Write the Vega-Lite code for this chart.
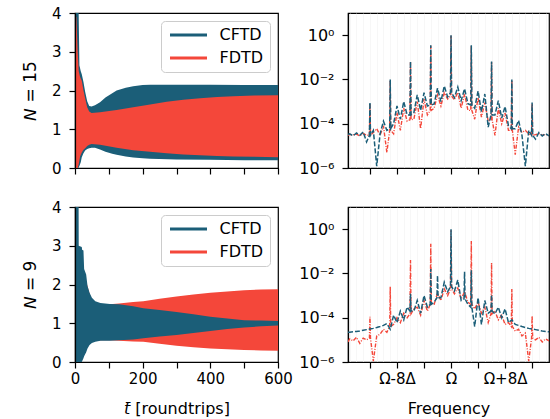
{
  "$schema": "https://vega.github.io/schema/vega-lite/v6.json",
  "padding": {"left": 20, "top": 5, "right": 1, "bottom": 2},
  "background": "white",
  "config": {
    "font": "DejaVu Sans",
    "view": {"stroke": "#000", "strokeWidth": 1.2},
    "axis": {"labelFont": "DejaVu Sans", "labelFontSize": 15, "labelColor": "#000", "titleFont": "DejaVu Sans", "titleFontSize": 16, "titleFontWeight": "normal", "titleColor": "#000", "tickColor": "#000", "tickSize": 6, "tickWidth": 1.2, "domainColor": "#000", "domainWidth": 1.2, "grid": false, "labelOverlap": false, "labelBound": false, "labelFlush": false}
  },
  "bounds": "flush",
  "columns": 2,
  "spacing": {"row": 39, "column": 70},
  "resolve": {"scale": {"color": "independent"}, "legend": {"color": "independent"}},
  "datasets": {
    "tl": [
      {"t":0,"s":"CFTD","lo":0,"hi":6},{"t":5,"s":"CFTD","lo":0,"hi":6},{"t":10,"s":"CFTD","lo":0,"hi":4.5},{"t":13,"s":"CFTD","lo":0.05,"hi":2.65},{"t":17,"s":"CFTD","lo":0.15,"hi":2.5},{"t":20,"s":"CFTD","lo":0.28,"hi":2.42},{"t":25,"s":"CFTD","lo":0.38,"hi":2.22},{"t":30,"s":"CFTD","lo":0.45,"hi":1.97},{"t":36,"s":"CFTD","lo":0.49,"hi":1.72},{"t":42,"s":"CFTD","lo":0.51,"hi":1.6},{"t":49,"s":"CFTD","lo":0.52,"hi":1.59},{"t":59,"s":"CFTD","lo":0.52,"hi":1.62},{"t":74,"s":"CFTD","lo":0.48,"hi":1.7},{"t":90,"s":"CFTD","lo":0.42,"hi":1.82},{"t":110,"s":"CFTD","lo":0.37,"hi":1.93},{"t":123,"s":"CFTD","lo":0.34,"hi":2.0},{"t":150,"s":"CFTD","lo":0.3,"hi":2.07},{"t":172,"s":"CFTD","lo":0.27,"hi":2.11},{"t":200,"s":"CFTD","lo":0.25,"hi":2.14},{"t":222,"s":"CFTD","lo":0.24,"hi":2.15},{"t":300,"s":"CFTD","lo":0.22,"hi":2.15},{"t":400,"s":"CFTD","lo":0.21,"hi":2.15},{"t":500,"s":"CFTD","lo":0.2,"hi":2.14},{"t":600,"s":"CFTD","lo":0.2,"hi":2.14},
      {"t":0,"s":"FDTD","lo":0,"hi":3.9},{"t":4,"s":"FDTD","lo":0,"hi":3.9},{"t":8,"s":"FDTD","lo":0,"hi":3.0},{"t":11,"s":"FDTD","lo":0.1,"hi":2.5},{"t":15,"s":"FDTD","lo":0.3,"hi":2.35},{"t":20,"s":"FDTD","lo":0.4,"hi":2.25},{"t":25,"s":"FDTD","lo":0.47,"hi":2.0},{"t":30,"s":"FDTD","lo":0.51,"hi":1.8},{"t":36,"s":"FDTD","lo":0.57,"hi":1.57},{"t":42,"s":"FDTD","lo":0.6,"hi":1.46},{"t":49,"s":"FDTD","lo":0.62,"hi":1.42},{"t":74,"s":"FDTD","lo":0.6,"hi":1.44},{"t":123,"s":"FDTD","lo":0.52,"hi":1.5},{"t":172,"s":"FDTD","lo":0.46,"hi":1.57},{"t":222,"s":"FDTD","lo":0.42,"hi":1.64},{"t":271,"s":"FDTD","lo":0.38,"hi":1.71},{"t":320,"s":"FDTD","lo":0.35,"hi":1.76},{"t":370,"s":"FDTD","lo":0.33,"hi":1.8},{"t":420,"s":"FDTD","lo":0.31,"hi":1.83},{"t":468,"s":"FDTD","lo":0.3,"hi":1.85},{"t":530,"s":"FDTD","lo":0.29,"hi":1.87},{"t":600,"s":"FDTD","lo":0.28,"hi":1.88}
    ],
    "bl": [
      {"t":0,"s":"CFTD","lo":0,"hi":6},{"t":10,"s":"CFTD","lo":0,"hi":6},{"t":11,"s":"CFTD","lo":0,"hi":3.0},{"t":20,"s":"CFTD","lo":0,"hi":2.97},{"t":21,"s":"CFTD","lo":0.02,"hi":2.9},{"t":25,"s":"CFTD","lo":0.1,"hi":2.88},{"t":27,"s":"CFTD","lo":0.15,"hi":2.4},{"t":33,"s":"CFTD","lo":0.25,"hi":2.26},{"t":37,"s":"CFTD","lo":0.35,"hi":1.96},{"t":43,"s":"CFTD","lo":0.44,"hi":1.79},{"t":50,"s":"CFTD","lo":0.49,"hi":1.66},{"t":60,"s":"CFTD","lo":0.52,"hi":1.57},{"t":75,"s":"CFTD","lo":0.55,"hi":1.52},{"t":103,"s":"CFTD","lo":0.55,"hi":1.5},{"t":130,"s":"CFTD","lo":0.56,"hi":1.49},{"t":172,"s":"CFTD","lo":0.58,"hi":1.44},{"t":202,"s":"CFTD","lo":0.61,"hi":1.39},{"t":250,"s":"CFTD","lo":0.66,"hi":1.34},{"t":300,"s":"CFTD","lo":0.7,"hi":1.29},{"t":350,"s":"CFTD","lo":0.75,"hi":1.23},{"t":400,"s":"CFTD","lo":0.8,"hi":1.17},{"t":450,"s":"CFTD","lo":0.85,"hi":1.12},{"t":500,"s":"CFTD","lo":0.89,"hi":1.08},{"t":550,"s":"CFTD","lo":0.92,"hi":1.07},{"t":600,"s":"CFTD","lo":0.94,"hi":1.06},
      {"t":0,"s":"FDTD","lo":0.2,"hi":3.0},{"t":20,"s":"FDTD","lo":0.3,"hi":2.5},{"t":50,"s":"FDTD","lo":0.55,"hi":1.55},{"t":80,"s":"FDTD","lo":0.56,"hi":1.49},{"t":103,"s":"FDTD","lo":0.56,"hi":1.49},{"t":130,"s":"FDTD","lo":0.55,"hi":1.51},{"t":172,"s":"FDTD","lo":0.53,"hi":1.55},{"t":202,"s":"FDTD","lo":0.52,"hi":1.57},{"t":250,"s":"FDTD","lo":0.47,"hi":1.63},{"t":300,"s":"FDTD","lo":0.42,"hi":1.69},{"t":350,"s":"FDTD","lo":0.38,"hi":1.74},{"t":400,"s":"FDTD","lo":0.35,"hi":1.79},{"t":450,"s":"FDTD","lo":0.33,"hi":1.82},{"t":500,"s":"FDTD","lo":0.31,"hi":1.85},{"t":550,"s":"FDTD","lo":0.3,"hi":1.87},{"t":600,"s":"FDTD","lo":0.29,"hi":1.88}
    ],
    "tr": [
      {"f":-15.25,"C":3.2e-5,"F":3.0e-5},{"f":-15,"C":3.5e-5,"F":3.3e-5},{"f":-14.5,"C":2.8e-5,"F":3.1e-5},{"f":-14,"C":3.8e-5,"F":3.4e-5},{"f":-13.5,"C":3.0e-5,"F":2.8e-5},{"f":-13,"C":4.2e-5,"F":3.6e-5},{"f":-12.5,"C":1.5e-5,"F":3.0e-5},{"f":-12.08,"C":3e-5,"F":3e-5},{"f":-12,"C":9e-4,"F":8e-4},{"f":-11.92,"C":3e-5,"F":3e-5},{"f":-11.5,"C":5e-5,"F":4e-5},{"f":-11,"C":1.2e-6,"F":6e-5},{"f":-10.5,"C":3.5e-5,"F":3e-5},{"f":-10,"C":1.3e-4,"F":8e-5},{"f":-9.5,"C":5e-5,"F":5e-6},{"f":-9.08,"C":6e-5,"F":5e-5},{"f":-9,"C":1e-2,"F":9e-3},{"f":-8.92,"C":6e-5,"F":5e-5},{"f":-8.5,"C":1e-4,"F":3.5e-5},{"f":-8,"C":6.3e-4,"F":3.2e-4},{"f":-7.5,"C":1.6e-4,"F":5e-5},{"f":-7,"C":1e-3,"F":5e-4},{"f":-6.5,"C":2.5e-4,"F":1.3e-4},{"f":-6.08,"C":2.5e-4,"F":1.5e-4},{"f":-6,"C":0.065,"F":0.06},{"f":-5.92,"C":2.5e-4,"F":1.5e-4},{"f":-5.5,"C":3.2e-4,"F":1.6e-4},{"f":-5,"C":2e-3,"F":1e-3},{"f":-4.5,"C":4e-4,"F":6e-5},{"f":-4,"C":2.5e-3,"F":1.3e-3},{"f":-3.5,"C":6.3e-4,"F":2.5e-4},{"f":-3.08,"C":7e-4,"F":4e-4},{"f":-3,"C":0.35,"F":0.33},{"f":-2.92,"C":7e-4,"F":4e-4},{"f":-2.5,"C":7.9e-4,"F":5e-4},{"f":-2,"C":4e-3,"F":2e-3},{"f":-1.5,"C":1e-3,"F":6.3e-4},{"f":-1,"C":5e-3,"F":2.5e-3},{"f":-0.5,"C":1.6e-3,"F":1.3e-3},{"f":-0.08,"C":2.5e-3,"F":1.8e-3},{"f":0,"C":1.0,"F":0.95},{"f":0.08,"C":2.5e-3,"F":1.8e-3},{"f":0.5,"C":1.5e-3,"F":1.2e-3},{"f":1,"C":4.5e-3,"F":2.6e-3},{"f":1.5,"C":1.1e-3,"F":5e-4},{"f":2,"C":3.8e-3,"F":2.2e-3},{"f":2.5,"C":8e-4,"F":4e-4},{"f":2.92,"C":7e-4,"F":4e-4},{"f":3,"C":0.35,"F":0.33},{"f":3.08,"C":7e-4,"F":4e-4},{"f":3.5,"C":5e-4,"F":1.6e-4},{"f":4,"C":3e-3,"F":1.5e-3},{"f":4.5,"C":3.5e-4,"F":2e-4},{"f":5,"C":2.2e-3,"F":9e-4},{"f":5.5,"C":7e-5,"F":1.3e-4},{"f":5.92,"C":2.5e-4,"F":1.5e-4},{"f":6,"C":0.065,"F":0.06},{"f":6.08,"C":2.5e-4,"F":1.5e-4},{"f":6.5,"C":2.5e-4,"F":3e-5},{"f":7,"C":1.1e-3,"F":5e-4},{"f":7.5,"C":1.8e-4,"F":1e-4},{"f":8,"C":6e-4,"F":3e-4},{"f":8.5,"C":8e-5,"F":5e-5},{"f":8.92,"C":6e-5,"F":5e-5},{"f":9,"C":1e-2,"F":9e-3},{"f":9.08,"C":6e-5,"F":5e-5},{"f":9.5,"C":6e-5,"F":4e-6},{"f":10,"C":1.4e-4,"F":7e-5},{"f":10.5,"C":3e-5,"F":4e-5},{"f":11,"C":1.2e-6,"F":5e-5},{"f":11.5,"C":5e-5,"F":3.5e-5},{"f":11.92,"C":3e-5,"F":3e-5},{"f":12,"C":9e-4,"F":8e-4},{"f":12.08,"C":3e-5,"F":3e-5},{"f":12.5,"C":2e-5,"F":3.2e-5},{"f":13,"C":4e-5,"F":3.6e-5},{"f":13.5,"C":2.8e-5,"F":3e-5},{"f":14,"C":3.6e-5,"F":3.3e-5},{"f":14.5,"C":2.8e-5,"F":2.9e-5}
    ],
    "br": [
      {"f":-15.25,"C":2.2e-5,"F":8e-6},{"f":-15,"C":2.2e-5,"F":1.1e-5},{"f":-14.5,"C":2.3e-5,"F":9e-6},{"f":-14,"C":2.4e-5,"F":1.3e-5},{"f":-13.5,"C":2.5e-5,"F":7e-6},{"f":-13,"C":2.7e-5,"F":1.2e-5},{"f":-12.5,"C":2.9e-5,"F":1e-5},{"f":-12.08,"C":null,"F":1.2e-5},{"f":-12,"C":3.1e-5,"F":1.1e-4},{"f":-11.92,"C":null,"F":1.2e-5},{"f":-11.5,"C":3.3e-5,"F":1.1e-6},{"f":-11,"C":3.6e-5,"F":1.5e-5},{"f":-10.5,"C":4e-5,"F":1.8e-5},{"f":-10,"C":4.5e-5,"F":3e-5},{"f":-9.5,"C":5.5e-5,"F":2.2e-5},{"f":-9.08,"C":null,"F":4e-5},{"f":-9,"C":3e-5,"F":2.5e-3},{"f":-8.92,"C":null,"F":4e-5},{"f":-8.5,"C":1.3e-4,"F":5e-5},{"f":-8,"C":6e-5,"F":1e-4},{"f":-7.5,"C":2e-4,"F":6e-5},{"f":-7,"C":8e-5,"F":1.6e-4},{"f":-6.5,"C":3e-4,"F":1e-4},{"f":-6.08,"C":2e-4,"F":1.5e-4},{"f":-6,"C":1.2e-3,"F":0.04},{"f":-5.92,"C":2e-4,"F":1.5e-4},{"f":-5.5,"C":2e-4,"F":2.5e-4},{"f":-5,"C":6e-4,"F":3e-4},{"f":-4.5,"C":1.6e-4,"F":1.3e-4},{"f":-4,"C":1e-3,"F":6e-4},{"f":-3.5,"C":3e-4,"F":2e-4},{"f":-3.08,"C":4e-4,"F":4e-4},{"f":-3,"C":0.016,"F":0.22},{"f":-2.92,"C":4e-4,"F":4e-4},{"f":-2.5,"C":5e-4,"F":4e-4},{"f":-2.08,"C":8e-4,"F":null},{"f":-2,"C":8e-3,"F":1.3e-3},{"f":-1.92,"C":8e-4,"F":null},{"f":-1.5,"C":8e-4,"F":6e-4},{"f":-1,"C":4e-3,"F":2e-3},{"f":-0.5,"C":1.5e-3,"F":1e-3},{"f":-0.08,"C":2.5e-3,"F":2e-3},{"f":0,"C":1.0,"F":0.9},{"f":0.08,"C":2.5e-3,"F":2e-3},{"f":0.5,"C":1.6e-3,"F":1.2e-3},{"f":1,"C":5e-3,"F":2.2e-3},{"f":1.5,"C":6e-4,"F":7e-4},{"f":1.92,"C":7e-4,"F":null},{"f":2,"C":0.012,"F":1.5e-3},{"f":2.08,"C":7e-4,"F":null},{"f":2.5,"C":4e-4,"F":5e-4},{"f":2.92,"C":3e-4,"F":4e-4},{"f":3,"C":0.014,"F":0.29},{"f":3.08,"C":3e-4,"F":4e-4},{"f":3.5,"C":4e-5,"F":2.5e-4},{"f":4,"C":8e-4,"F":5e-4},{"f":4.5,"C":5e-5,"F":1.6e-4},{"f":5,"C":6e-4,"F":3e-4},{"f":5.5,"C":1.6e-4,"F":6e-5},{"f":5.92,"C":2e-4,"F":1.5e-4},{"f":6,"C":1.1e-3,"F":0.03},{"f":6.08,"C":2e-4,"F":1.5e-4},{"f":6.5,"C":1.5e-4,"F":2e-4},{"f":7,"C":3e-4,"F":8e-5},{"f":7.5,"C":1e-4,"F":1.3e-4},{"f":8,"C":2.5e-4,"F":5e-5},{"f":8.5,"C":6e-5,"F":6e-5},{"f":8.92,"C":null,"F":4e-5},{"f":9,"C":8e-5,"F":2e-3},{"f":9.08,"C":null,"F":4e-5},{"f":9.5,"C":5e-5,"F":2.5e-5},{"f":10,"C":4.5e-5,"F":3e-5},{"f":10.5,"C":4e-5,"F":1.5e-5},{"f":11,"C":3.6e-5,"F":2e-5},{"f":11.5,"C":3.3e-5,"F":1.1e-6},{"f":11.92,"C":null,"F":1.2e-5},{"f":12,"C":3.1e-5,"F":1.2e-4},{"f":12.08,"C":null,"F":1.2e-5},{"f":12.5,"C":2.9e-5,"F":1e-5},{"f":13,"C":2.7e-5,"F":1.3e-5},{"f":13.5,"C":2.5e-5,"F":8e-6},{"f":14,"C":2.4e-5,"F":1.1e-5},{"f":14.5,"C":2.3e-5,"F":9e-6}
    ]
  },
  "concat": [
    {
      "width": 203, "height": 155,
      "data": {"name": "tl"},
      "encoding": {
        "x": {"field": "t", "type": "quantitative", "scale": {"domain": [0, 600], "nice": false}, "axis": {"values": [0,100,200,300,400,500,600], "labels": false, "title": null, "zindex": 1}},
        "y": {"field": "lo", "type": "quantitative", "scale": {"domain": [0, 4], "nice": false}, "axis": {"values": [0,1,2,3,4], "title": "𝘕 = 15", "titleFontSize": 17, "titlePadding": 12, "labelPadding": 8, "zindex": 1}},
        "y2": {"field": "hi"},
        "color": {"field": "s", "type": "nominal", "scale": {"domain": ["CFTD", "FDTD"], "range": ["#1b5e78", "#f4473a"]}, "legend": {"title": null, "orient": "top-right", "offset": 8, "symbolType": "M-3.7,-0.3H3.7V0.3H-3.7Z", "symbolSize": 100, "symbolOffset": 13.5, "symbolStrokeWidth": 0, "labelFont": "DejaVu Sans", "labelFontSize": 16, "labelColor": "#000", "labelOffset": 23, "fillColor": "rgba(255,255,255,0.85)", "strokeColor": "#cccccc", "cornerRadius": 4, "padding": 6, "rowPadding": 7}}
      },
      "layer": [
        {"transform": [{"filter": "datum.s == 'CFTD'"}], "mark": {"type": "area", "clip": true}},
        {"transform": [{"filter": "datum.s == 'FDTD'"}], "mark": {"type": "area", "clip": true}}
      ]
    },
    {
      "width": 201, "height": 155,
      "data": {"name": "tr"},
      "encoding": {
        "x": {"field": "f", "type": "quantitative", "scale": {"domain": [-15.25, 14.5], "nice": false, "zero": false}, "axis": {"values": [-15,-14,-13,-12,-11,-10,-9,-8,-7,-6,-5,-4,-3,-2,-1,0,1,2,3,4,5,6,7,8,9,10,11,12,13,14], "grid": true, "gridColor": "#f1f1f1", "gridWidth": 0.6, "tickOpacity": {"condition": {"test": "datum.value % 4 == 0", "value": 1}, "value": 0}, "labels": false, "title": null, "zindex": 0}}
      },
      "layer": [
        {"mark": {"type": "line", "color": "#f4473a", "strokeWidth": 1.4, "strokeDash": [4, 1.5, 1, 1.5], "clip": true, "invalid": "filter"},
         "encoding": {"y": {"field": "F", "type": "quantitative", "scale": {"type": "log", "domain": [1e-6, 10], "nice": false}, "axis": {"values": [1e-6, 1e-4, 1e-2, 1], "labelExpr": "datum.value > 0.1 ? '10⁰' : datum.value > 0.001 ? '10⁻²' : datum.value > 0.00001 ? '10⁻⁴' : '10⁻⁶'", "title": null, "labelFontSize": 16, "labelPadding": 8}}}},
        {"mark": {"type": "line", "color": "#1b5e78", "strokeWidth": 1.5, "strokeDash": [5, 2], "clip": true, "invalid": "filter"},
         "encoding": {"y": {"field": "C", "type": "quantitative"}}}
      ]
    },
    {
      "width": 203, "height": 155,
      "data": {"name": "bl"},
      "encoding": {
        "x": {"field": "t", "type": "quantitative", "scale": {"domain": [0, 600], "nice": false}, "axis": {"values": [0,100,200,300,400,500,600], "labelExpr": "datum.value % 200 == 0 ? datum.label : ''", "title": "𝘵̄ [roundtrips]", "labelPadding": 3, "titlePadding": 14, "zindex": 1}},
        "y": {"field": "lo", "type": "quantitative", "scale": {"domain": [0, 4], "nice": false}, "axis": {"values": [0,1,2,3,4], "title": "𝘕 = 9", "titleFontSize": 17, "titlePadding": 12, "labelPadding": 8, "zindex": 1}},
        "y2": {"field": "hi"},
        "color": {"field": "s", "type": "nominal", "scale": {"domain": ["CFTD", "FDTD"], "range": ["#1b5e78", "#f4473a"]}, "legend": {"title": null, "orient": "top-right", "offset": 8, "symbolType": "M-3.7,-0.3H3.7V0.3H-3.7Z", "symbolSize": 100, "symbolOffset": 13.5, "symbolStrokeWidth": 0, "labelFont": "DejaVu Sans", "labelFontSize": 16, "labelColor": "#000", "labelOffset": 23, "fillColor": "rgba(255,255,255,0.85)", "strokeColor": "#cccccc", "cornerRadius": 4, "padding": 6, "rowPadding": 7}}
      },
      "layer": [
        {"transform": [{"filter": "datum.s == 'FDTD'"}], "mark": {"type": "area", "clip": true}},
        {"transform": [{"filter": "datum.s == 'CFTD'"}], "mark": {"type": "area", "clip": true}}
      ]
    },
    {
      "width": 201, "height": 155,
      "data": {"name": "br"},
      "encoding": {
        "x": {"field": "f", "type": "quantitative", "scale": {"domain": [-15.25, 14.5], "nice": false, "zero": false}, "axis": {"values": [-15,-14,-13,-12,-11,-10,-9,-8,-7,-6,-5,-4,-3,-2,-1,0,1,2,3,4,5,6,7,8,9,10,11,12,13,14], "grid": true, "gridColor": "#f1f1f1", "gridWidth": 0.6, "tickOpacity": {"condition": {"test": "datum.value % 4 == 0", "value": 1}, "value": 0}, "labelExpr": "datum.value == -8 ? 'Ω-8Δ' : datum.value == 0 ? 'Ω' : datum.value == 8 ? 'Ω+8Δ' : ''", "labelPadding": 3, "title": "Frequency", "titlePadding": 14, "zindex": 0}}
      },
      "layer": [
        {"mark": {"type": "line", "color": "#f4473a", "strokeWidth": 1.4, "strokeDash": [4, 1.5, 1, 1.5], "clip": true, "invalid": "filter"},
         "encoding": {"y": {"field": "F", "type": "quantitative", "scale": {"type": "log", "domain": [1e-6, 10], "nice": false}, "axis": {"values": [1e-6, 1e-4, 1e-2, 1], "labelExpr": "datum.value > 0.1 ? '10⁰' : datum.value > 0.001 ? '10⁻²' : datum.value > 0.00001 ? '10⁻⁴' : '10⁻⁶'", "title": null, "labelFontSize": 16, "labelPadding": 8}}}},
        {"mark": {"type": "line", "color": "#1b5e78", "strokeWidth": 1.5, "strokeDash": [5, 2], "clip": true, "invalid": "filter"},
         "encoding": {"y": {"field": "C", "type": "quantitative"}}}
      ]
    }
  ]
}
